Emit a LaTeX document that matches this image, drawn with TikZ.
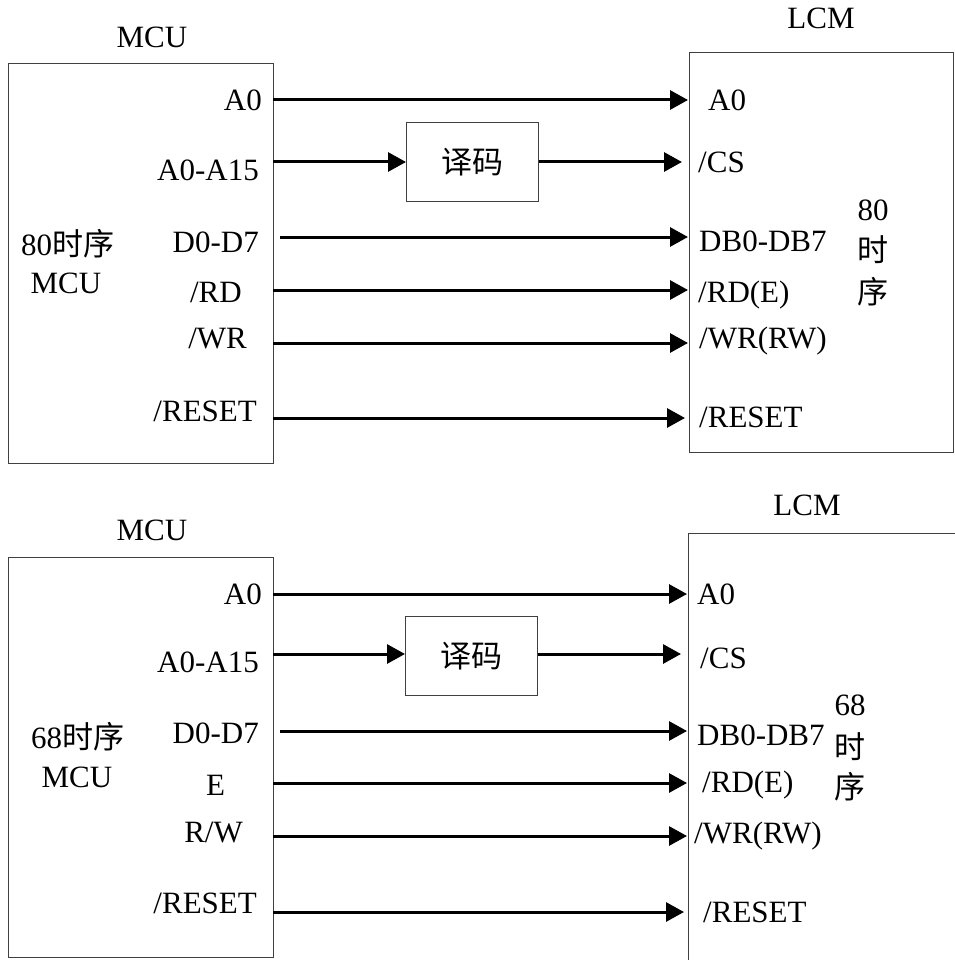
\documentclass[tikz,border=0pt]{standalone}
\usepackage{fontspec}
\setmainfont{Liberation Serif}
\newfontfamily\cjk{Noto Sans CJK SC}
\usetikzlibrary{arrows.meta}
\begin{document}
\begin{tikzpicture}[x=1pt,y=-1pt,
  txt/.style={inner sep=0pt, font=\fontsize{31}{36}\selectfont},
  boxline/.style={draw=black!75, line width=1pt},
  blk/.style={boxline, inner sep=0pt, anchor=north west},
  decbox/.style={boxline, inner sep=0pt, anchor=north west, minimum width=132pt, minimum height=79pt, font=\fontsize{31}{36}\selectfont\cjk},
  sig/.style={line width=3pt, -{Triangle[length=18pt,width=19pt]}},
  wire/.style={line width=3pt}]
\useasboundingbox (0,0) rectangle (954,960);

% ================= top (80) =================
\node[blk, minimum width=265pt, minimum height=400pt] (mcu1) at (8,63) {};
\node[blk, minimum width=264pt, minimum height=400pt] (lcm1) at (689,52) {};
\node[decbox] (dec1) at (406,122) {译码};

\node[txt, anchor=base] (t1mcu) at (152,48) {MCU};
\node[txt, anchor=base] (t1lcm) at (821,29) {LCM};

\node[txt, anchor=base east] (m1l1) at (262,111) {A0};
\node[txt, anchor=base east] (m1l2) at (259,180) {A0-A15};
\node[txt, anchor=base east] (m1l3) at (259,252) {D0-D7};
\node[txt, anchor=base east] (m1l4) at (242,302) {/RD};
\node[txt, anchor=base east] (m1l5) at (247,348) {/WR};
\node[txt, anchor=base east] (m1l6) at (257,421) {/RESET};
\node[txt, anchor=base west] (m1n1) at (21,255) {80{\cjk 时序}};
\node[txt, anchor=base] (m1n2) at (66,293) {MCU};

\node[txt, anchor=base west] (l1l1) at (708,111) {A0};
\node[txt, anchor=base west] (l1l2) at (698,173) {/CS};
\node[txt, anchor=base west] (l1l3) at (699,251) {DB0-DB7};
\node[txt, anchor=base west] (l1l4) at (698,302) {/RD(E)};
\node[txt, anchor=base west] (l1l5) at (699,348) {/WR(RW)};
\node[txt, anchor=base west] (l1l6) at (699,427) {/RESET};
\node[txt, anchor=base] (l1n1) at (873,220) {80};
\node[txt] (l1n2) at (873,250) {\cjk 时};
\node[txt] (l1n3) at (873,292) {\cjk 序};

\coordinate (s1a) at (273,100);  \coordinate (e1a) at (688,100);
\coordinate (s1b) at (273,162);  \coordinate (e1b) at (682,162);
\coordinate (s1c) at (280,237);  \coordinate (e1c) at (688,237);
\coordinate (s1d) at (273,290);  \coordinate (e1d) at (688,290);
\coordinate (s1e) at (273,343);  \coordinate (e1e) at (688,343);
\coordinate (s1f) at (273,418);  \coordinate (e1f) at (685,418);

\draw[sig] (s1a) -- (e1a);
\draw[sig] (s1b) -- (s1b -| dec1.west);
\draw[sig] (e1b -| dec1.east) -- (e1b);
\draw[sig] (s1c) -- (e1c);
\draw[sig] (s1d) -- (e1d);
\draw[sig] (s1e) -- (e1e);
\draw[sig] (s1f) -- (e1f);

% ================= bottom (68) =================
\node[blk, minimum width=265pt, minimum height=400pt] (mcu2) at (8,557) {};
\coordinate (lcm2tr) at (955,533);
\coordinate (lcm2tl) at (688,533);
\coordinate (lcm2bl) at (688,961);
\draw[boxline] (lcm2tr) -- (lcm2tl) -- (lcm2bl);
\node[decbox] (dec2) at (405,616) {译码};

\node[txt, anchor=base] (t2mcu) at (152,540) {MCU};
\node[txt, anchor=base] (t2lcm) at (807,515) {LCM};

\node[txt, anchor=base east] (m2l1) at (262,604) {A0};
\node[txt, anchor=base east] (m2l2) at (259,672) {A0-A15};
\node[txt, anchor=base east] (m2l3) at (259,743) {D0-D7};
\node[txt, anchor=base] (m2l4) at (215.5,795) {E};
\node[txt, anchor=base east] (m2l5) at (243,842) {R/W};
\node[txt, anchor=base east] (m2l6) at (257,913) {/RESET};
\node[txt, anchor=base west] (m2n1) at (31,748) {68{\cjk 时序}};
\node[txt, anchor=base] (m2n2) at (77,787) {MCU};

\node[txt, anchor=base west] (l2l1) at (697,604) {A0};
\node[txt, anchor=base west] (l2l2) at (700,668) {/CS};
\node[txt, anchor=base west] (l2l3) at (697,745) {DB0-DB7};
\node[txt, anchor=base west] (l2l4) at (702,792) {/RD(E)};
\node[txt, anchor=base west] (l2l5) at (694,843) {/WR(RW)};
\node[txt, anchor=base west] (l2l6) at (703,922) {/RESET};
\node[txt, anchor=base] (l2n1) at (850,715) {68};
\node[txt] (l2n2) at (850,747) {\cjk 时};
\node[txt] (l2n3) at (850,787) {\cjk 序};

\coordinate (s2a) at (273,594);  \coordinate (e2a) at (687,594);
\coordinate (s2b) at (273,654);  \coordinate (e2b) at (681,654);
\coordinate (s2c) at (280,731);  \coordinate (e2c) at (687,731);
\coordinate (s2d) at (273,783);  \coordinate (e2d) at (687,783);
\coordinate (s2e) at (273,836);  \coordinate (e2e) at (687,836);
\coordinate (s2f) at (273,912);  \coordinate (e2f) at (684,912);

\draw[sig] (s2a) -- (e2a);
\draw[sig] (s2b) -- (s2b -| dec2.west);
\draw[sig] (e2b -| dec2.east) -- (e2b);
\draw[sig] (s2c) -- (e2c);
\draw[sig] (s2d) -- (e2d);
\draw[sig] (s2e) -- (e2e);
\draw[sig] (s2f) -- (e2f);
\end{tikzpicture}
\end{document}
